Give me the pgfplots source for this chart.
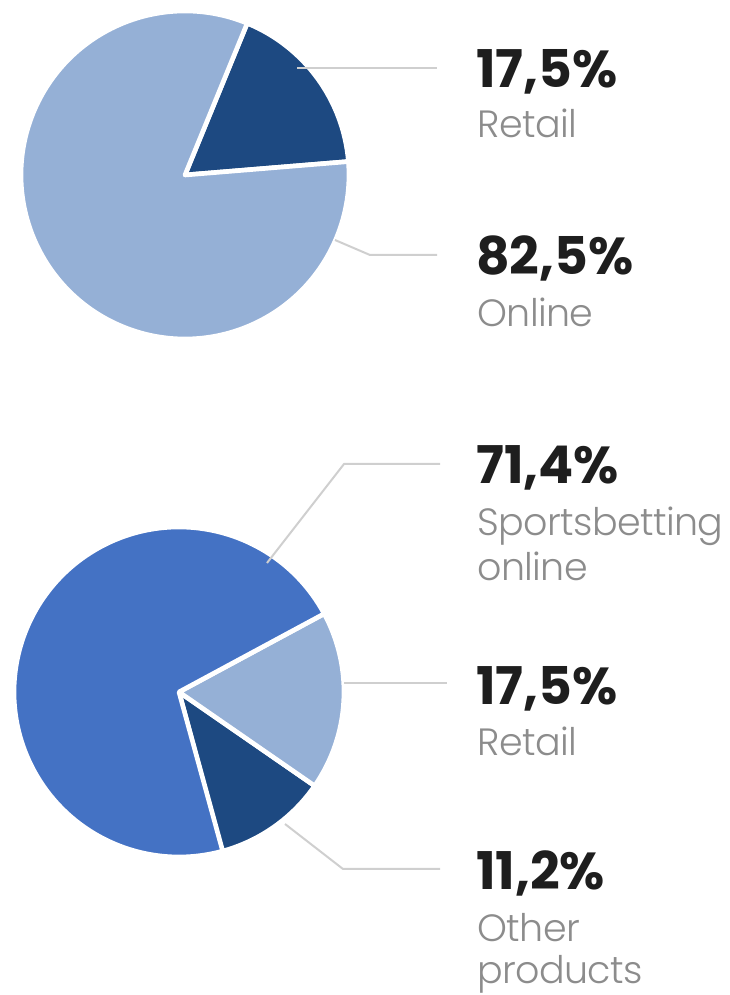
\documentclass[border=0pt]{standalone}
\usepackage{pgfplots}
\pgfplotsset{compat=1.18}
\usepackage{pgfplotstable}
\usepackage{fontspec}
\setmainfont{Poppins}
\newfontfamily\lightfont{Poppins Light}[LetterSpace=-1.5]

\definecolor{pieLight}{HTML}{95B0D6}
\definecolor{pieDark}{HTML}{1D4981}
\definecolor{pieMid}{HTML}{4472C4}
\definecolor{pctText}{HTML}{1E1E1E}
\definecolor{lblText}{HTML}{8C8C8C}
\definecolor{leader}{HTML}{CFCFCF}

% channel split
\pgfplotstableread[col sep=comma]{
label,value,color
Retail,17.5,pieDark
Online,82.5,pieLight
}\toppie

% product split
\pgfplotstableread[col sep=comma]{
label,value,color
Other products,11.2,pieDark
Retail,17.5,pieLight
Sportsbetting online,71.4,pieMid
}\bottompie

% #1 table, #2 cx, #3 cy, #4 radius (px), #5 start angle
\newcommand\drawpie[5]{%
  \xdef\pieangle{#5}%
  \pgfplotstableforeachcolumnelement{value}\of#1\as\pieval{%
    \pgfplotstablegetelem{\pgfplotstablerow}{color}\of#1%
    \xdef\piecol{\pgfplotsretval}%
    \pgfmathsetmacro\pieend{\pieangle+3.6*\pieval}%
    \fill[\piecol, draw=white, line width=3.5pt, line join=round]
      (axis cs:#2,#3) -- ++(\pieangle:#4*0.75pt)
      arc[start angle=\pieangle, end angle=\pieend, radius=#4*0.75pt] -- cycle;
    \xdef\pieangle{\pieend}%
  }%
}

\newcommand\pct{\fontsize{39}{39}\selectfont\bfseries\color{pctText}}
\newcommand\lbl{\lightfont\fontsize{28.5}{28.5}\selectfont\color{lblText}}

\begin{document}
\begin{tikzpicture}
\begin{axis}[
    x=0.75pt, y=0.75pt,
    xmin=0, xmax=730, ymin=0, ymax=995,
    hide axis, clip=false,
    at={(0,0)}, anchor=south west,
]
\pgfplotsextra{%
  \drawpie{\toppie}{185}{820}{164}{4.7}%
  \drawpie{\bottompie}{179}{303}{165}{-75}%
}

% leader lines
\draw[leader, line width=1.5pt] (axis cs:297,927) -- (axis cs:437,927);
\draw[leader, line width=1.5pt] (axis cs:335,755) -- (axis cs:370,740) -- (axis cs:437,740);
\draw[leader, line width=1.5pt] (axis cs:267,432) -- (axis cs:344,531) -- (axis cs:440,531);
\draw[leader, line width=1.5pt] (axis cs:344,312) -- (axis cs:447,312);
\draw[leader, line width=1.5pt] (axis cs:285,171) -- (axis cs:343,126) -- (axis cs:440,126);

% labels
\node[anchor=base west, inner sep=0pt] at (axis cs:476,907) {\pct 17,5\%};
\node[anchor=base west, inner sep=0pt] at (axis cs:477,857) {\lbl Retail};
\node[anchor=base west, inner sep=0pt] at (axis cs:476,720) {\pct 82,5\%};
\node[anchor=base west, inner sep=0pt] at (axis cs:477,668) {\lbl Online};

\node[anchor=base west, inner sep=0pt] at (axis cs:476,511) {\pct 71,4\%};
\node[anchor=base west, inner sep=0pt] at (axis cs:477,459) {\lbl Sportsbetting};
\node[anchor=base west, inner sep=0pt] at (axis cs:477,414) {\lbl online};
\node[anchor=base west, inner sep=0pt] at (axis cs:476,290) {\pct 17,5\%};
\node[anchor=base west, inner sep=0pt] at (axis cs:477,239) {\lbl Retail};
\node[anchor=base west, inner sep=0pt] at (axis cs:476,105) {\pct 11,2\%};
\node[anchor=base west, inner sep=0pt] at (axis cs:477,53) {\lbl Other};
\node[anchor=base west, inner sep=0pt] at (axis cs:477,12) {\lbl products};
\end{axis}
\pgfresetboundingbox
\path[use as bounding box] (0,0) rectangle (547.5pt,746.25pt);
\end{tikzpicture}
\end{document}
